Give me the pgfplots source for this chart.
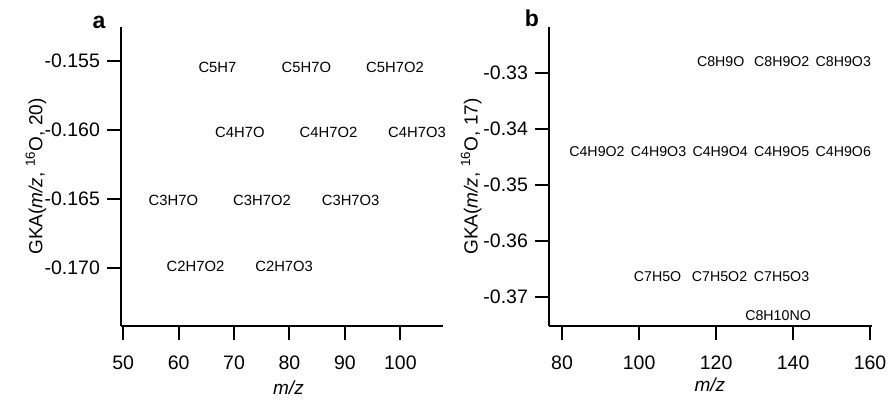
\documentclass[border=0pt]{standalone}
\usepackage{fontspec}
\setmainfont{Liberation Sans}
\usepackage{pgfplots}
\pgfplotsset{compat=1.18}
\pgfplotsset{
  panel/.style={
    scale only axis,
    anchor=south west,
    axis x line*=bottom,
    axis y line*=left,
    axis line style={-, line width=1pt},
    every tick/.style={black, line width=1pt},
    tick align=outside,
    major tick length=7pt,
    /pgf/number format/assume math mode=true,
    tick label style={font=\fontsize{9.75}{11}\selectfont},
    xticklabel style={yshift=-4.5pt},
    label style={font=\fontsize{9.5}{11}\selectfont},
    clip=false,
    xlabel={\textit{m/z}},
    minor tick num=0,
  },
  lbl/.style={draw=none, mark=none, nodes near coords, point meta=explicit symbolic,
    nodes near coords align={center},
    every node near coord/.append style={text=black, inner sep=0pt, anchor=center, font=\fontsize{#1}{9}\selectfont}},
}
\begin{document}
\begin{tikzpicture}
\useasboundingbox (0,0) rectangle (444.5pt,200.5pt);
% Panel a
\begin{axis}[panel,
  at={(60.5pt,37.5pt)},
  width=161pt, height=149.5pt,
  xmin=49.6, xmax=107.7,
  ymin=-0.1742, ymax=-0.15254,
  xtick={50,60,70,80,90,100},
  ytick={-0.170,-0.165,-0.160,-0.155},
  yticklabel style={/pgf/number format/.cd, fixed, fixed zerofill, precision=3},
  ylabel={GKA(\textit{m/z}, \textsuperscript{16}O, 20)},
  ylabel style={at={(axis description cs:-0.264,0.5)}, anchor=center},
  xlabel style={at={(axis description cs:0.52,-0.207)}, anchor=center},
]
\addplot[lbl=7.4] table[x=x, y=y, meta=label] {
label x y
C5H7 67.0 -0.1555
C5H7O 83.05 -0.1555
C5H7O2 99.04 -0.1555
C4H7O 71.05 -0.1602
C4H7O2 87.04 -0.1602
C4H7O3 103.0 -0.1602
C3H7O 59.05 -0.1651
C3H7O2 75.04 -0.1651
C3H7O3 91.04 -0.1651
C2H7O2 63.04 -0.1699
C2H7O3 79.04 -0.1699
};
\end{axis}
% Panel b
\begin{axis}[panel,
  at={(274.5pt,37.5pt)},
  width=161.5pt, height=149.5pt,
  xmin=76.6, xmax=160.5,
  ymin=-0.3752, ymax=-0.3218,
  xtick={80,100,120,140,160},
  ytick={-0.37,-0.36,-0.35,-0.34,-0.33},
  yticklabel style={/pgf/number format/.cd, fixed, fixed zerofill, precision=2},
  ylabel={GKA(\textit{m/z}, \textsuperscript{16}O, 17)},
  ylabel style={at={(axis description cs:-0.241,0.5)}, anchor=center},
  xlabel style={at={(axis description cs:0.498,-0.197)}, anchor=center},
]
\addplot[lbl=7.1] table[x=x, y=y, meta=label] {
label x y
C8H9O 121.2 -0.3280
C8H9O2 137.06 -0.3280
C8H9O3 153.05 -0.3280
C4H9O2 89.06 -0.3441
C4H9O3 105.05 -0.3441
C4H9O4 121.05 -0.3441
C4H9O5 137.04 -0.3441
C4H9O6 153.04 -0.3441
C7H5O 104.8 -0.3664
C7H5O2 120.9 -0.3664
C7H5O3 137.0 -0.3664
C8H10NO 136.1 -0.3734
};
\end{axis}
\node[anchor=base, font=\fontsize{11.5}{13}\selectfont\bfseries, inner sep=0pt] at (49.5pt,186pt) {a};
\node[anchor=base, font=\fontsize{11.5}{13}\selectfont\bfseries, inner sep=0pt] at (266pt,187pt) {b};
\end{tikzpicture}
\end{document}
